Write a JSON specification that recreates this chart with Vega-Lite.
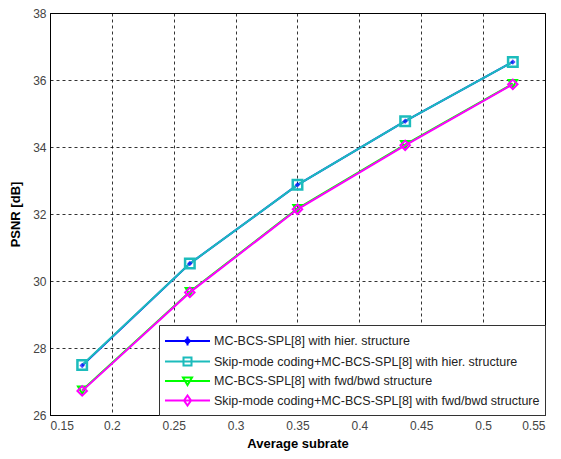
{
  "$schema": "https://vega.github.io/schema/vega-lite/v6.json",
  "width": 495,
  "height": 402,
  "padding": {"left": 9, "top": 7, "right": 6, "bottom": 5},
  "background": "white",
  "config": {
    "font": "Liberation Sans",
    "view": {"stroke": "black", "strokeWidth": 1},
    "axis": {
      "domainColor": "black",
      "ticks": false,
      "grid": true,
      "gridColor": "black",
      "gridDash": [3, 3],
      "gridOpacity": 0.8,
      "labelFont": "Liberation Sans",
      "labelFontSize": 12,
      "labelColor": "#444444",
      "titleFont": "Liberation Sans",
      "titleFontSize": 13,
      "titleFontWeight": "bold",
      "titleColor": "black"
    }
  },
  "data": {
    "values": [
      {"series": "MC-BCS-SPL[8] with hier. structure", "x": 0.176, "y": 27.48},
      {"series": "MC-BCS-SPL[8] with hier. structure", "x": 0.263, "y": 30.52},
      {"series": "MC-BCS-SPL[8] with hier. structure", "x": 0.35, "y": 32.87},
      {"series": "MC-BCS-SPL[8] with hier. structure", "x": 0.437, "y": 34.77},
      {"series": "MC-BCS-SPL[8] with hier. structure", "x": 0.524, "y": 36.54},
      {"series": "Skip-mode coding+MC-BCS-SPL[8] with hier. structure", "x": 0.176, "y": 27.49},
      {"series": "Skip-mode coding+MC-BCS-SPL[8] with hier. structure", "x": 0.263, "y": 30.52},
      {"series": "Skip-mode coding+MC-BCS-SPL[8] with hier. structure", "x": 0.35, "y": 32.87},
      {"series": "Skip-mode coding+MC-BCS-SPL[8] with hier. structure", "x": 0.437, "y": 34.77},
      {"series": "Skip-mode coding+MC-BCS-SPL[8] with hier. structure", "x": 0.524, "y": 36.54},
      {"series": "MC-BCS-SPL[8] with fwd/bwd structure", "x": 0.176, "y": 26.74},
      {"series": "MC-BCS-SPL[8] with fwd/bwd structure", "x": 0.263, "y": 29.68},
      {"series": "MC-BCS-SPL[8] with fwd/bwd structure", "x": 0.35, "y": 32.16},
      {"series": "MC-BCS-SPL[8] with fwd/bwd structure", "x": 0.437, "y": 34.07},
      {"series": "MC-BCS-SPL[8] with fwd/bwd structure", "x": 0.524, "y": 35.89},
      {"series": "Skip-mode coding+MC-BCS-SPL[8] with fwd/bwd structure", "x": 0.176, "y": 26.72},
      {"series": "Skip-mode coding+MC-BCS-SPL[8] with fwd/bwd structure", "x": 0.263, "y": 29.66},
      {"series": "Skip-mode coding+MC-BCS-SPL[8] with fwd/bwd structure", "x": 0.35, "y": 32.14},
      {"series": "Skip-mode coding+MC-BCS-SPL[8] with fwd/bwd structure", "x": 0.437, "y": 34.05},
      {"series": "Skip-mode coding+MC-BCS-SPL[8] with fwd/bwd structure", "x": 0.524, "y": 35.87}
    ]
  },
  "encoding": {
    "x": {
      "field": "x",
      "type": "quantitative",
      "title": "Average subrate",
      "scale": {"domain": [0.15, 0.55], "nice": false, "zero": false},
      "axis": {"values": [0.15, 0.2, 0.25, 0.3, 0.35, 0.4, 0.45, 0.5, 0.55], "format": "~g", "labelPadding": 5, "titlePadding": 6}
    },
    "y": {
      "field": "y",
      "type": "quantitative",
      "title": "PSNR [dB]",
      "scale": {"domain": [26, 38], "nice": false, "zero": false},
      "axis": {"values": [26, 28, 30, 32, 34, 36, 38], "labelPadding": 4, "titlePadding": 10}
    }
  },
  "layer": [
    {
      "transform": [{"filter": "datum.series === 'MC-BCS-SPL[8] with hier. structure'"}],
      "mark": {"type": "line", "color": "#0000ff", "strokeWidth": 2}
    },
    {
      "transform": [{"filter": "datum.series === 'Skip-mode coding+MC-BCS-SPL[8] with hier. structure'"}],
      "mark": {"type": "line", "color": "#1cbcbc", "strokeWidth": 2,
        "point": {"shape": "square", "filled": false, "color": "#1cbcbc", "strokeWidth": 2.5, "size": 90}}
    },
    {
      "transform": [{"filter": "datum.series === 'MC-BCS-SPL[8] with hier. structure'"}],
      "mark": {"type": "point", "shape": "diamond", "filled": true, "color": "#0000ff", "size": 30}
    },
    {
      "transform": [{"filter": "datum.series === 'MC-BCS-SPL[8] with fwd/bwd structure'"}],
      "mark": {"type": "line", "color": "#00ff00", "strokeWidth": 2,
        "point": {"shape": "triangle-down", "filled": false, "color": "#00ff00", "strokeWidth": 2, "size": 70}}
    },
    {
      "transform": [{"filter": "datum.series === 'Skip-mode coding+MC-BCS-SPL[8] with fwd/bwd structure'"}],
      "mark": {"type": "line", "color": "#ff00ff", "strokeWidth": 2,
        "point": {"shape": "diamond", "filled": false, "color": "#ff00ff", "strokeWidth": 2, "size": 90}}
    },
    {
      "mark": {"type": "point", "filled": false, "opacity": 0},
      "encoding": {
        "color": {
          "field": "series",
          "type": "nominal",
          "scale": {
            "domain": [
              "MC-BCS-SPL[8] with hier. structure",
              "Skip-mode coding+MC-BCS-SPL[8] with hier. structure",
              "MC-BCS-SPL[8] with fwd/bwd structure",
              "Skip-mode coding+MC-BCS-SPL[8] with fwd/bwd structure"
            ],
            "range": ["#0000ff", "#1cbcbc", "#00ff00", "#ff00ff"]
          },
          "legend": {
            "title": null,
            "orient": "bottom-right",
            "offset": 0,
            "strokeColor": "#333333",
            "fillColor": "white",
            "padding": 5,
            "symbolSize": 400,
            "symbolStrokeWidth": 2,
            "symbolOpacity": 1,
            "labelFont": "Liberation Sans",
            "labelFontSize": 12.5,
            "labelColor": "#222222",
            "labelOffset": 28,
            "labelLimit": 400,
            "rowPadding": 0.5
          }
        },
        "shape": {
          "field": "series",
          "type": "nominal",
          "scale": {
            "domain": [
              "MC-BCS-SPL[8] with hier. structure",
              "Skip-mode coding+MC-BCS-SPL[8] with hier. structure",
              "MC-BCS-SPL[8] with fwd/bwd structure",
              "Skip-mode coding+MC-BCS-SPL[8] with fwd/bwd structure"
            ],
            "range": [
              "M-1,0H3.5M1.25,-0.45V0.45M1,0L1.25,-0.25L1.5,0L1.25,0.25Z",
              "M-1,0H3.5M0.85,-0.4H1.65V0.4H0.85Z",
              "M-1,0H3.5M0.8,-0.35L1.7,-0.35L1.25,0.4Z",
              "M-1,0H3.5M0.9,0L1.25,-0.5L1.6,0L1.25,0.5Z"
            ]
          },
          "legend": {
            "title": null,
            "orient": "bottom-right",
            "offset": 0,
            "strokeColor": "#333333",
            "fillColor": "white",
            "padding": 5,
            "symbolSize": 400,
            "symbolStrokeWidth": 2,
            "symbolOpacity": 1,
            "labelFont": "Liberation Sans",
            "labelFontSize": 12.5,
            "labelColor": "#222222",
            "labelOffset": 28,
            "labelLimit": 400,
            "rowPadding": 0.5
          }
        }
      }
    }
  ]
}
